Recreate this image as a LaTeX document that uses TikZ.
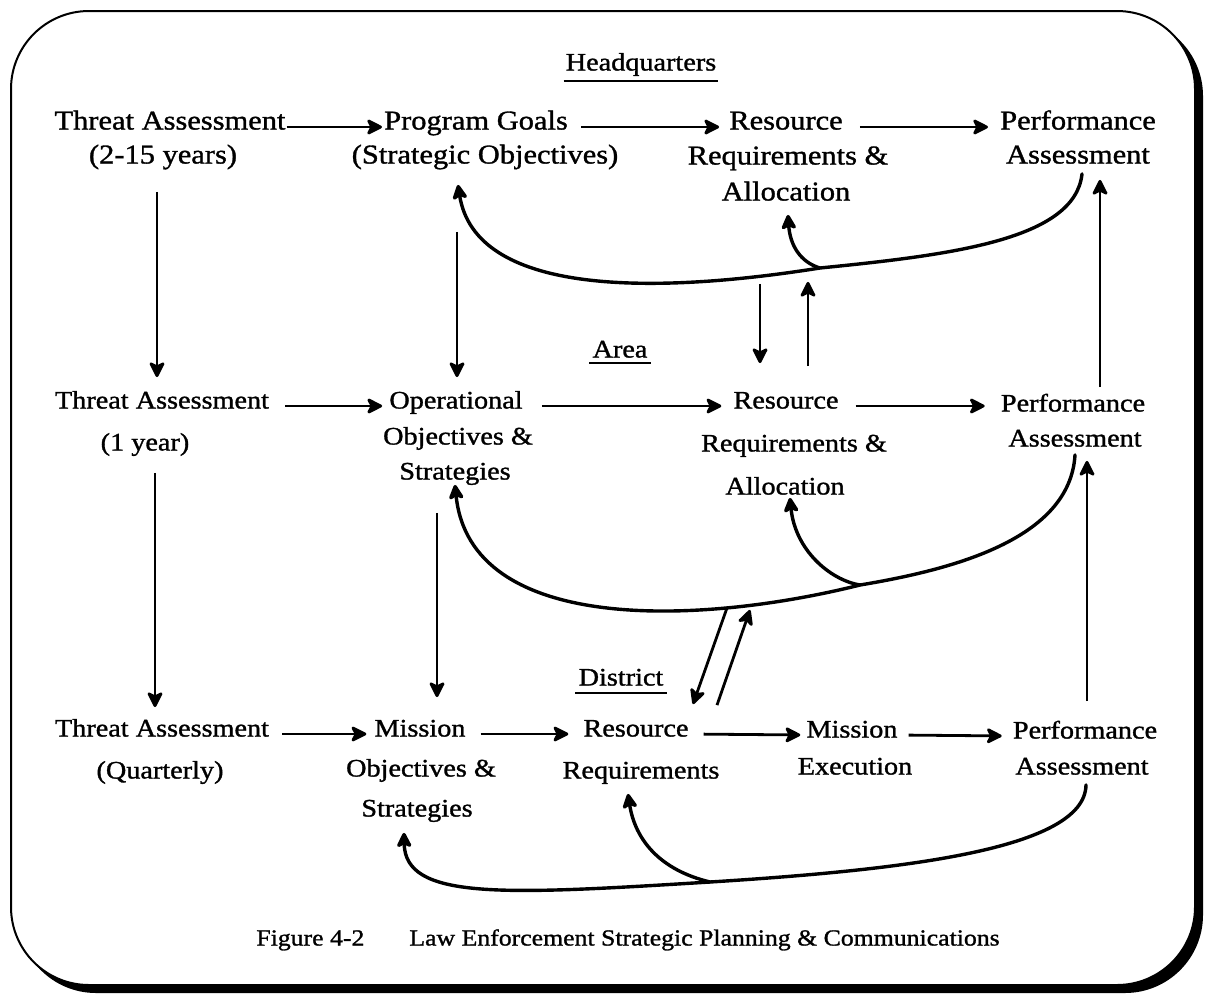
\documentclass[tikz,border=0pt]{standalone}
\usepackage{fontspec}
\setmainfont{Liberation Serif}[FakeStretch=1.12, FakeBold=1.2]
\usetikzlibrary{arrows.meta,calc}

\begin{document}
\begin{tikzpicture}[x=1pt,y=-1pt,
  lbl/.style={inner sep=0pt, text height=0.72em, text depth=0.22em},
  big/.style={lbl, font=\fontsize{27.2}{30}\selectfont},
  mid/.style={lbl, font=\fontsize{25.2}{30}\selectfont},
  capt/.style={lbl, font=\fontsize{23}{28}\selectfont},
  tip/.style={-{Stealth[length=18pt,width=18pt,inset=4.5pt,round]}},
  arr/.style={tip, line width=2.8pt},
  fb/.style={tip, line width=3.4pt, line cap=round},
  ul/.style={line width=2.8pt}
]
\useasboundingbox (0,0) rectangle (1205,997);

% frame with drop shadow
\fill[black, rounded corners=78pt] (18,18) rectangle (1203,993);
\draw[line width=2pt, fill=white, rounded corners=78pt] (11,11) rectangle (1195,985);

% ---- Headquarters level ----
\node[mid] (hq) at (641,68) {Headquarters};
\draw[ul] ([xshift=-2pt,yshift=-8pt]hq.south west) -- ([xshift=2pt,yshift=-8pt]hq.south east);

\node[big] (ta1)  at (170,127) {Threat Assessment};
\node[big] (ta1y) at (163,161) {(2-15 years)};
\node[big] (pg)   at (476,127) {Program Goals};
\node[big] (pgs)  at (485,161) {(Strategic Objectives)};
\node[big] (rr1)  at (786,127) {Resource};
\node[big] (rr1b) at (788,162) {Requirements \&};
\node[big] (rr1c) at (786,198) {Allocation};
\node[big] (pa1)  at (1078,127) {Performance};
\node[big] (pa1b) at (1078,161) {Assessment};

\draw[arr, shorten <=1pt, shorten >=2pt]   (ta1.east) -- (pg.west);
\draw[arr, shorten <=13pt, shorten >=10pt] (pg.east)  -- (rr1.west);
\draw[arr, shorten <=17pt, shorten >=12pt] (rr1.east) -- (pa1.west);

% ---- Area level ----
\node[mid] (area) at (620,355) {Area};
\draw[ul] ([xshift=-3pt,yshift=-3pt]area.south west) -- ([xshift=3pt,yshift=-3pt]area.south east);

\node[mid] (ta2)  at (162,406) {Threat Assessment};
\node[mid] (ta2y) at (145,448) {(1 year)};
\node[mid] (op)   at (456,406) {Operational};
\node[mid] (opb)  at (458,442) {Objectives \&};
\node[mid] (opc)  at (455,477) {Strategies};
\node[mid] (rr2)  at (786,406) {Resource};
\node[mid] (rr2b) at (794,449) {Requirements \&};
\node[mid] (rr2c) at (785,492) {Allocation};
\node[mid] (pa2)  at (1073,409) {Performance};
\node[mid] (pa2b) at (1075,444) {Assessment};

\draw[arr, shorten <=16pt, shorten >=7pt]  (ta2.east) -- (ta2.east -| op.west);
\draw[arr, shorten <=19pt, shorten >=12pt] (op.east)  -- (rr2.west);
\draw[arr, shorten <=17pt, shorten >=16pt] (rr2.east) -- (rr2.east -| pa2.west);

% ---- District level ----
\node[mid] (dist) at (621,683) {District};
\draw[ul] ([xshift=-3pt,yshift=-5pt]dist.south west) -- ([xshift=3pt,yshift=-5pt]dist.south east);

\node[mid] (ta3)  at (162,734) {Threat Assessment};
\node[mid] (ta3q) at (160,776) {(Quarterly)};
\node[mid] (mo)   at (420,734) {Mission};
\node[mid] (mob)  at (421,774) {Objectives \&};
\node[mid] (moc)  at (417,814) {Strategies};
\node[mid] (rr3)  at (636,734) {Resource};
\node[mid] (rr3b) at (641,776) {Requirements};
\node[mid] (me)   at (852,735) {Mission};
\node[mid] (meb)  at (855,772) {Execution};
\node[mid] (pa3)  at (1085,736) {Performance};
\node[mid] (pa3b) at (1082,772) {Assessment};

\draw[arr, shorten <=13pt, shorten >=8pt]  (ta3.east) -- (mo.west);
\draw[arr, shorten <=15pt, shorten >=15pt] (mo.east)  -- (rr3.west);
\draw[arr, shorten <=15pt, shorten >=6pt]  (rr3.east) -- (me.west);
\draw[arr, shorten <=11pt, shorten >=11pt] (me.east)  -- (pa3.west);

% ---- vertical links between levels ----
\draw[arr, shorten <=26pt, shorten >=24pt] ([xshift=-5pt]ta2.north |- ta1y.south) -- ([xshift=-5pt]ta2.north);
\draw[arr, shorten <=20pt, shorten >=22pt] ([xshift=-7pt]ta3.north |- ta2y.south) -- ([xshift=-7pt]ta3.north);
\draw[arr, shorten <=66pt, shorten >=24pt] ([xshift=1pt]op.north |- pgs.south) -- ([xshift=1pt]op.north);
\draw[arr, shorten <=31pt, shorten >=32pt] ([xshift=-18pt]opc.south) -- ([xshift=17pt]mo.north);

\draw[arr, shorten <=81pt, shorten >=38pt] ([xshift=-26pt]rr1c.south) -- ([xshift=-26pt]rr2.north);
\draw[arr, shorten <=35pt, shorten >=79pt] ([xshift=22pt]rr2.north) -- ([xshift=22pt]rr1c.south);

\draw[arr] ($(rr2c.south)+(-58,111)$) -- ($(rr3.north)+(57,-25)$);
\draw[arr] ($(rr3.north)+(81,-24)$) -- ($(rr2c.south)+(-35,113)$);

\draw[arr, shorten <=30pt, shorten >=12pt] ([xshift=2pt]pa3.north) -- ([xshift=2pt]pa3.north |- pa2b.south);
\draw[arr, shorten <=17pt, shorten >=14pt] ([xshift=27pt]pa2.north) -- ([xshift=27pt]pa2.north |- pa1b.south);

% ---- feedback curves ----
\coordinate (j1) at (820,268);
\coordinate (j2) at (860,585);
\coordinate (j3) at (710,882);

\draw[fb] ($(pa1b.south)+(4,8)$) .. controls (1075,240) and (950,255) .. (j1)
          .. controls (650,295) and (475,295) .. ($(pgs.south)+(-27,19)$);
\draw[fb] (j1) .. controls (800,262) and (790,245) .. ($(rr1c.south)+(2,12)$);

\draw[fb] ($(pa2b.south)+(0,6)$) .. controls (1070,540) and (950,570) .. (j2)
          .. controls (700,625) and (470,635) .. ($(opc.south)+(0,3)$);
\draw[fb] (j2) .. controls (830,580) and (795,550) .. ($(rr2c.south)+(5,1)$);

\draw[fb] ($(pa3b.south)+(4,8)$) .. controls (1085,850) and (900,870) .. (j3)
          .. controls (500,895) and (405,900) .. ($(moc.south)+(-13,14)$);
\draw[fb] (j3) .. controls (660,870) and (635,840) .. ($(rr3b.south)+(-13,13)$);

% ---- caption ----
\node[capt] (caption) at (628,943) {Figure 4-2\hspace{45pt}Law Enforcement Strategic Planning \& Communications};
\end{tikzpicture}
\end{document}
